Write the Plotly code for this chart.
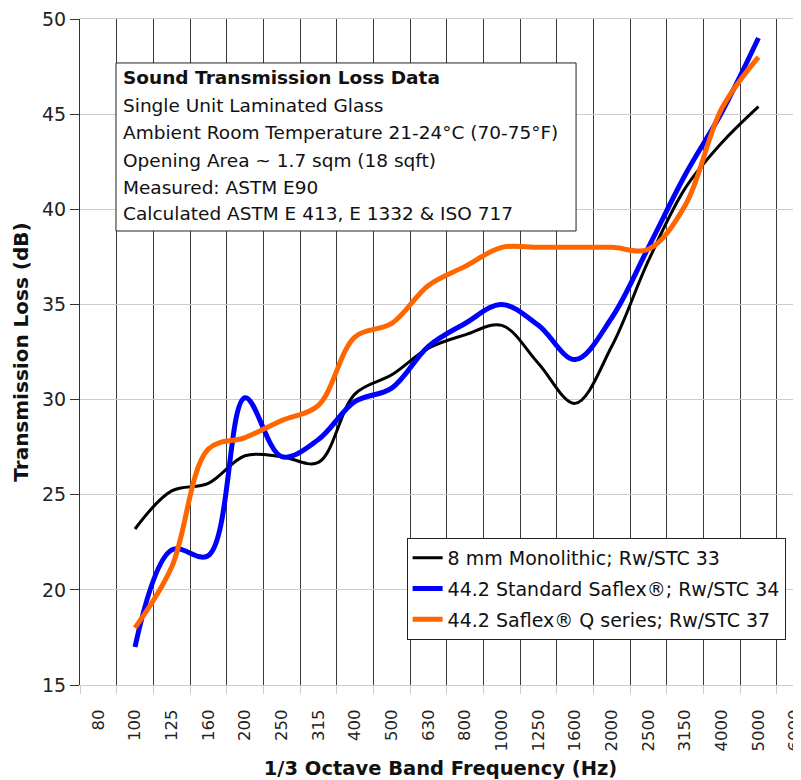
import plotly.graph_objects as go

# 1/3 octave band categories (Hz)
freq_labels = ["80", "100", "125", "160", "200", "250", "315", "400", "500", "630",
               "800", "1000", "1250", "1600", "2000", "2500", "3150", "4000", "5000", "6000"]
data_freqs = ["100", "125", "160", "200", "250", "315", "400", "500", "630", "800",
              "1000", "1250", "1600", "2000", "2500", "3150", "4000", "5000"]

monolithic_8mm = [23.2, 25.2, 25.6, 27.05, 27.0, 26.7, 30.3, 31.3, 32.7, 33.4,
                  33.9, 31.9, 29.8, 32.8, 37.3, 41.1, 43.5, 45.4]
standard_saflex = [17.0, 22.1, 21.8, 30.1, 27.0, 27.9, 29.9, 30.6, 32.8, 34.0,
                   35.0, 33.9, 32.1, 34.3, 38.0, 41.8, 45.1, 49.0]
saflex_q = [18.0, 21.2, 27.4, 28.0, 28.9, 29.7, 33.3, 34.0, 36.0, 37.0,
            38.0, 38.0, 38.0, 38.0, 37.9, 40.2, 45.3, 48.0]

series_names = ["8 mm Monolithic; Rw/STC 33",
                "44.2 Standard Saflex®; Rw/STC 34",
                "44.2 Saflex® Q series; Rw/STC 37"]
series_values = [monolithic_8mm, standard_saflex, saflex_q]
series_colors = ["#000000", "#0000FF", "#FF6600"]
series_widths = [3, 5, 5]

info_title = "Sound Transmission Loss Data"
info_lines = ["Single Unit Laminated Glass",
              "Ambient Room Temperature 21-24°C (70-75°F)",
              "Opening Area ~ 1.7 sqm (18 sqft)",
              "Measured: ASTM E90",
              "Calculated ASTM E 413, E 1332 & ISO 717"]

FONT = "DejaVu Sans"

fig = go.Figure()
for i, (name, vals, col, w) in enumerate(zip(series_names, series_values, series_colors, series_widths)):
    fig.add_trace(go.Scatter(
        x=data_freqs, y=vals, mode="lines", name=name,
        line=dict(color=col, width=w, shape="spline", smoothing=1.0),
        legendgroup=f"g{i}",
    ))

# info box
fig.add_shape(type="rect", xref="paper", yref="paper",
              x0=0.0499, x1=0.688, y0=0.6817, y1=0.934,
              line=dict(color="#222222", width=1), fillcolor="white", layer="above")
ys = [0.9119, 0.8698, 0.8293, 0.7868, 0.7467, 0.7083]
texts = ["<b>" + info_title + "</b>"] + info_lines
for t, yv in zip(texts, ys):
    fig.add_annotation(text=t, xref="paper", yref="paper", x=0.0569, y=yv,
                       xanchor="left", yanchor="middle", showarrow=False,
                       font=dict(family=FONT, size=18.5, color="#111111"))

# page body adds an 8px offset, so the figure is sized to fit the 801x780 window
fig.update_layout(
    width=793, height=772,
    margin=dict(l=72, r=0, t=11, b=95, autoexpand=False),
    paper_bgcolor="white", plot_bgcolor="white",
    font=dict(family=FONT, color="#222222"),
    showlegend=True,
    legend=dict(x=0.453, y=0.2207, xanchor="left", yanchor="top",
                bgcolor="white", bordercolor="#222222", borderwidth=1,
                font=dict(family=FONT, size=19, color="#111111"),
                traceorder="grouped", tracegroupgap=3),
    xaxis=dict(
        type="category", categoryorder="array", categoryarray=freq_labels,
        range=[-0.5, 19.16], tickson="boundaries", automargin=False,
        tickmode="array", tickvals=freq_labels, ticktext=freq_labels,
        showgrid=True, gridcolor="#3a3a3a", gridwidth=1,
        ticks="outside", ticklen=8, tickcolor="#cccccc",
        tickangle=-90, ticklabelstandoff=17, ticklabeloverflow="allow",
        tickfont=dict(family=FONT, size=16.5, color="#222222"),
        showline=True, linecolor="#cccccc", linewidth=1, mirror=True,
        zeroline=False,
        title=dict(text="<b>1/3 Octave Band Frequency (Hz)</b>", standoff=11,
                   font=dict(family=FONT, size=19.5, color="#111111")),
    ),
    yaxis=dict(
        range=[15, 50], dtick=5, tick0=15, automargin=False,
        showgrid=True, gridcolor="#cccccc", gridwidth=1,
        ticks="outside", ticklen=9, tickcolor="#333333",
        ticklabeloverflow="allow",
        tickfont=dict(family=FONT, size=19, color="#222222"),
        showline=True, linecolor="#333333", linewidth=1,
        zeroline=False,
        title=dict(text="<b>Transmission Loss (dB)</b>", standoff=8,
                   font=dict(family=FONT, size=20, color="#111111")),
    ),
)

fig.write_html("out.html")
